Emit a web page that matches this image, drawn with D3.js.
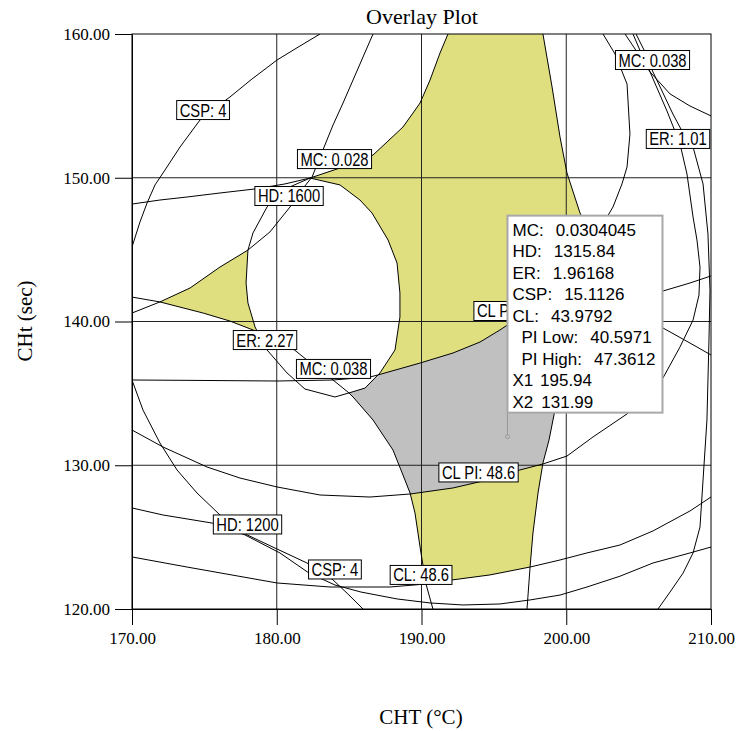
<!DOCTYPE html>
<html>
<head>
<meta charset="utf-8">
<script src="https://cdn.jsdelivr.net/npm/d3@7/dist/d3.min.js"></script>
<style>
  body { margin: 0; background: #fff; }
  svg { display: block; }
</style>
</head>
<body>
<svg id="chart" width="737" height="731"></svg>
<script>
// ---- axes ----
const xDomain = [170, 210];
const yDomain = [120, 160];
const xTicks = [170, 180, 190, 200, 210];
const yTicks = [120, 130, 140, 150, 160];
const xGrid = [180, 190, 200];
const yGrid = [130, 140, 150];

// ---- contour lines, [CHT, CHt] ----
const hd1600 = [[170,148.17],[171.93,148.45],[173.80,148.66],[176.08,148.94],[178.50,149.22],[180.57,149.57],[182.30,149.98],[184.37,150.68],[186.65,151.58],[187.62,152.49],[188.72,153.53],[189.41,154.50],[189.90,155.20],[190.59,156.80],[191.28,158.68],[191.83,160]];
const mc028 = [[170,140.59],[171.93,141.36],[174.01,142.33],[176.08,143.79],[178.01,144.97],[179.53,146.23],[180.92,147.97],[181.61,149.01],[182.44,150.05],[182.99,151.44],[183.89,153.67],[184.58,155.20],[185.27,156.80],[185.96,158.40],[186.65,160]];
const er227 = [[182.30,149.98],[184.37,149.50],[185.75,148.45],[186.58,147.55],[187.69,145.67],[188.31,144.07],[188.51,141.98],[188.51,140.31],[188.17,138.02],[187.13,136.42],[186.99,136.28],[186.10,135.37],[184.99,135.03],[184.02,134.75],[181.95,135.30],[180.71,136.42],[179.33,138.02],[178.64,139.34],[178.50,139.62],[178.01,141.29],[177.88,142.68],[178.01,144.97],[178.36,146.16],[179.33,147.97],[180.43,149.15],[182.30,149.98]];
const mc038a = [[170,141.70],[171.93,141.36],[174.91,140.59],[176.77,140.03],[178.36,139.41],[179.53,138.85],[181.05,138.16],[182.09,137.32],[182.99,136.63],[183.89,135.93],[184.99,135.03],[185.27,134.75],[186.65,133.15],[188.03,131.06],[188.72,129.32],[189.21,128.07],[189.55,126.68],[189.90,124.31],[190.31,121.74],[190.79,120]];
const mc038b = [[204.06,160],[204.89,158.75],[205.79,157.36],[207.17,155.83],[208.55,154.99],[210,154.30]];
const er101 = [[204.82,160],[205.44,158.75],[205.99,157.36],[206.68,155.90],[207.37,154.43],[208.07,153.11],[208.76,152.14],[209.45,149.57],[209.79,146.09],[209.93,142.19],[209.86,138.71],[209.79,135.93],[209.72,133.15],[209.45,128.97],[209.24,125.70],[208.76,123.90],[208.07,122.50],[207.17,121.18],[206.34,120]];
const clpiUpper = [[170,135.93],[174.70,135.90],[180.02,135.86],[183.89,135.93],[186.44,136.14],[186.99,136.28],[189.90,137.11],[192.18,137.81],[194.04,138.57],[195.42,139.41],[197.50,140.80],[199.57,142.75],[201.30,144.63],[201.92,145.74],[202.82,147.27],[203.23,147.97],[203.85,149.57],[204.20,150.75],[204.40,153.04],[204.20,156.52],[203.37,158.61],[202.54,160]];
const clpiLower = [[170,132.45],[172.14,131.27],[175.18,129.88],[177.46,129.11],[180.02,128.49],[182.99,127.93],[186.44,127.79],[189.21,128.00],[192.18,128.42],[194.53,128.97],[196.80,129.67],[198.39,130.09],[200.05,130.64],[201.85,131.97],[204.20,133.57],[205.44,134.75],[206.68,136.07],[207.86,138.23],[208.76,140.10],[209.17,141.84],[209.24,143.79],[209.03,145.67],[208.76,147.27],[208.34,150.26],[207.86,152.35],[206.96,154.64],[205.79,157.36],[205.23,158.54],[204.61,160]];
const yrUpper = [[198.39,160],[199.02,156.31],[199.57,152.83],[200.05,150.33],[200.95,147.55],[201.92,145.74],[202.33,144.97],[204.06,142.54],[205.30,141.08],[206.68,139.55],[208.55,138.50],[210,137.67]];
const yrLower = [[197.29,120],[197.50,122.92],[197.70,125.29],[198.05,128.07],[198.39,130.16],[198.81,131.76],[199.22,133.84],[200.60,136.63],[203.02,139.41],[205.30,141.08],[206.68,142.12],[208.55,142.68],[210,143.17]];
const csp4Upper = [[182.99,160],[181.61,159.17],[180.02,158.19],[178.29,156.87],[176.77,155.62],[175.73,154.85],[174.70,154.02],[173.32,152.14],[172.28,150.54],[171.59,149.50],[171.04,148.24],[170.55,146.92],[170,145.18]];
const hd1200 = [[170,135.93],[170.76,133.84],[171.93,131.55],[173.11,129.67],[174.49,128.07],[176.08,126.54],[177.67,125.29],[179.88,124.24],[182.09,123.20],[182.99,122.71],[183.89,122.02],[184.92,121.04],[185.96,120]];
const csp4Lower = [[170,127.03],[172.14,126.54],[175.53,125.98],[177.81,125.15],[180.22,123.90],[182.23,122.50],[184.02,121.67],[185.82,121.18],[188.31,120.70],[190.59,120.42],[192.87,120.28],[195.42,120.35],[197.50,120.63],[199.57,120.97],[201.43,121.53],[203.71,122.28],[205.99,123.20],[208.55,123.90],[210,124.31]];
const cl486 = [[170,123.62],[173.80,122.92],[180.02,121.81],[183.68,121.53],[187.82,121.53],[190.31,121.74],[192.11,122.02],[194.73,122.37],[197.50,122.92],[199.57,123.41],[201.43,123.90],[203.71,124.45],[205.99,125.43],[208.55,126.82],[210,127.79]];

// ---- shaded regions ----
const feasibleMain = [[182.30,149.98],[184.37,150.68],[186.65,151.58],[187.62,152.49],[188.72,153.53],[189.41,154.50],[189.90,155.20],[190.59,156.80],[191.28,158.68],[191.83,160],[198.39,160],[199.02,156.31],[199.57,152.83],[200.05,150.33],[200.95,147.55],[201.92,145.74],[202.33,144.97],[204.06,142.54],[205.30,141.08],[203.02,139.41],[200.60,136.63],[199.22,133.84],[198.81,131.76],[198.39,130.16],[198.05,128.07],[197.70,125.29],[197.50,122.92],[194.73,122.37],[192.11,122.02],[190.31,121.74],[189.90,124.31],[189.55,126.68],[189.21,128.07],[188.72,129.32],[188.03,131.06],[186.65,133.15],[185.27,134.75],[184.99,135.03],[186.10,135.37],[186.99,136.28],[187.13,136.42],[188.17,138.02],[188.51,140.31],[188.51,141.98],[188.31,144.07],[187.69,145.67],[186.58,147.55],[185.75,148.45],[184.37,149.50],[182.30,149.98]];
const feasibleLeft = [[171.93,141.36],[174.01,142.33],[176.08,143.79],[178.01,144.97],[177.88,142.68],[178.01,141.29],[178.50,139.62],[178.64,139.34],[178.36,139.41],[176.77,140.03],[174.91,140.59],[171.93,141.36]];
const piBand = [[184.99,135.03],[186.10,135.37],[186.99,136.28],[189.90,137.11],[192.18,137.81],[194.04,138.57],[195.42,139.41],[197.50,140.80],[199.57,142.75],[201.30,144.63],[201.92,145.74],[202.33,144.97],[204.06,142.54],[205.30,141.08],[203.02,139.41],[200.60,136.63],[199.22,133.84],[198.81,131.76],[198.39,130.16],[196.80,129.67],[194.53,128.97],[192.18,128.42],[189.21,128.00],[188.72,129.32],[188.03,131.06],[186.65,133.15],[185.27,134.75],[184.99,135.03]];

// ---- contour labels ----
const labelText = ["CSP: 4","MC: 0.028","HD: 1600","ER: 2.27","MC: 0.038","MC: 0.038","ER: 1.01","HD: 1200","CSP: 4","CL: 48.6","CL PI: 48.6","CL PI: 48.6"];
const labelX    = [174.91, 183.99, 180.85, 179.19, 183.92, 205.96, 207.72, 177.98, 184.02, 189.97, 193.94, 196.36];
const labelY    = [154.71, 151.30, 148.73, 138.71, 136.70, 158.19, 152.70, 125.88, 122.75, 122.37, 129.50, 140.73];

// ---- flagged design point ----
const pointX = 195.94, pointY = 131.99;
const infoNames  = ["MC:","HD:","ER:","CSP:","CL:","PI Low:","PI High:","X1","X2"];
const infoValues = ["0.0304045","1315.84","1.96168","15.1126","43.9792","40.5971","47.3612","195.94","131.99"];
const infoIndent = [0,0,0,0,0,1,1,0,0];

const svg = d3.select("#chart");
const plot = { left: 132, top: 34, right: 711, bottom: 609 };
const x = d3.scaleLinear().domain(xDomain).range([plot.left, plot.right]);
const y = d3.scaleLinear().domain(yDomain).range([plot.bottom, plot.top]);
const serif = "'Liberation Serif','Times New Roman',Times,serif";
const sans = "'Liberation Sans',Arial,Helvetica,sans-serif";

svg.append("rect").attr("width", 737).attr("height", 731).attr("fill", "#fff");

const defs = svg.append("defs");
defs.append("clipPath").attr("id", "plotClip")
  .append("rect").attr("x", plot.left).attr("y", plot.top)
  .attr("width", plot.right - plot.left).attr("height", plot.bottom - plot.top);

const line = d3.line().x(d => x(d[0])).y(d => y(d[1]));
const area = svg.append("g").attr("clip-path", "url(#plotClip)");

// shaded regions
area.append("path").attr("d", line(feasibleMain) + "Z").attr("fill", "#dfdf80");
area.append("path").attr("d", line(feasibleLeft) + "Z").attr("fill", "#dfdf80");
area.append("path").attr("d", line(piBand) + "Z").attr("fill", "#c0c0c0");

// grid
area.selectAll("line.gx").data(xGrid).join("line")
  .attr("x1", d => x(d)).attr("x2", d => x(d))
  .attr("y1", plot.top).attr("y2", plot.bottom)
  .attr("stroke", "#222").attr("stroke-width", 1);
area.selectAll("line.gy").data(yGrid).join("line")
  .attr("y1", d => y(d)).attr("y2", d => y(d))
  .attr("x1", plot.left).attr("x2", plot.right)
  .attr("stroke", "#222").attr("stroke-width", 1);

// contours
const contours = [hd1600, mc028, er227, mc038a, mc038b, er101, clpiUpper, clpiLower, yrUpper, yrLower, csp4Upper, hd1200, csp4Lower, cl486];
area.selectAll("path.contour").data(contours).join("path")
  .attr("class", "contour")
  .attr("d", d => line(d))
  .attr("fill", "none").attr("stroke", "#000").attr("stroke-width", 1);

// frame
svg.append("rect").attr("x", plot.left).attr("y", plot.top)
  .attr("width", plot.right - plot.left).attr("height", plot.bottom - plot.top)
  .attr("fill", "none").attr("stroke", "#000").attr("stroke-width", 1);

// axes
const fmt = d3.format(".2f");
const gx = svg.append("g").attr("transform", `translate(0,${plot.bottom})`)
  .call(d3.axisBottom(x).tickValues(xTicks).tickFormat(fmt).tickSize(16).tickSizeOuter(0).tickPadding(7));
const gy = svg.append("g").attr("transform", `translate(${plot.left},0)`)
  .call(d3.axisLeft(y).tickValues(yTicks).tickFormat(fmt).tickSize(17).tickSizeOuter(0).tickPadding(5));
[gx, gy].forEach(g => {
  g.attr("font-family", serif).attr("font-size", 17);
  g.select(".domain").attr("stroke", "#000");
  g.selectAll(".tick line").attr("stroke", "#000");
  g.selectAll(".tick text").attr("fill", "#000")
    .attr("font-family", serif).style("font-family", serif).style("font-size", "17px");
});

// titles
svg.append("text").attr("x", 422).attr("y", 24).attr("text-anchor", "middle")
  .style("font-family", serif).style("font-size", "22px").text("Overlay Plot");
svg.append("text").attr("x", 421).attr("y", 724).attr("text-anchor", "middle")
  .style("font-family", serif).style("font-size", "21px").text("CHT (°C)");
svg.append("text").attr("transform", "translate(32,321) rotate(-90)").attr("text-anchor", "middle")
  .style("font-family", serif).style("font-size", "21px").text("CHt (sec)");

// info box geometry (anchored on the flagged point)
const px = x(pointX), py = y(pointY);
const boxW = 155, boxH = 197, boxTop = py - 24 - boxH;

// labels sit under the info box: clip them to the part left of it where they meet it
defs.append("clipPath").attr("id", "besideInfo")
  .append("path")
  .attr("d", `M0,0H${px}V${boxTop}H737V${boxTop + boxH}H${px}V731H0Z`)
  .attr("clip-rule", "evenodd");

// contour labels
const labels = svg.append("g");
labelText.forEach((t, i) => {
  const cx = x(labelX[i]), cy = y(labelY[i]);
  const g = labels.append("g");
  const inner = g.append("g").attr("transform", `translate(${cx},${cy})`);
  const box = inner.append("rect").attr("fill", "#fff").attr("stroke", "#000").attr("stroke-width", 1);
  const tx = inner.append("text").attr("text-anchor", "middle").attr("dy", "0.36em")
    .style("font-family", sans).style("font-size", "18px").attr("fill", "#000").text(t);
  const w = tx.node().getComputedTextLength() * 0.82;
  tx.attr("textLength", w).attr("lengthAdjust", "spacingAndGlyphs");
  box.attr("x", -w / 2 - 3).attr("y", -9.5).attr("width", w + 6).attr("height", 19);
  const overlapsInfo = cx + w / 2 > px && cx - w / 2 < px + boxW && cy > boxTop && cy < boxTop + boxH;
  if (overlapsInfo) g.attr("clip-path", "url(#besideInfo)");
});

// info box for the flagged point
svg.append("line").attr("x1", px).attr("x2", px).attr("y1", py - 24).attr("y2", py - 2)
  .attr("stroke", "#999").attr("stroke-width", 1);
svg.append("circle").attr("cx", px).attr("cy", py).attr("r", 2)
  .attr("fill", "none").attr("stroke", "#999").attr("stroke-width", 1);
const info = svg.append("g").attr("transform", `translate(${px},${boxTop})`);
info.append("rect").attr("width", boxW).attr("height", boxH)
  .attr("fill", "#fff").attr("stroke", "#a8a8a8").attr("stroke-width", 2);
infoNames.forEach((n, i) => {
  const t = info.append("text").attr("x", infoIndent[i] ? 14 : 5).attr("y", 20 + i * 21.5)
    .style("font-family", sans).style("font-size", "17px").attr("fill", "#000");
  t.append("tspan").text(n);
  t.append("tspan").attr("dx", n.endsWith(":") ? 12 : 8).text(infoValues[i]);
});
</script>
</body>
</html>
